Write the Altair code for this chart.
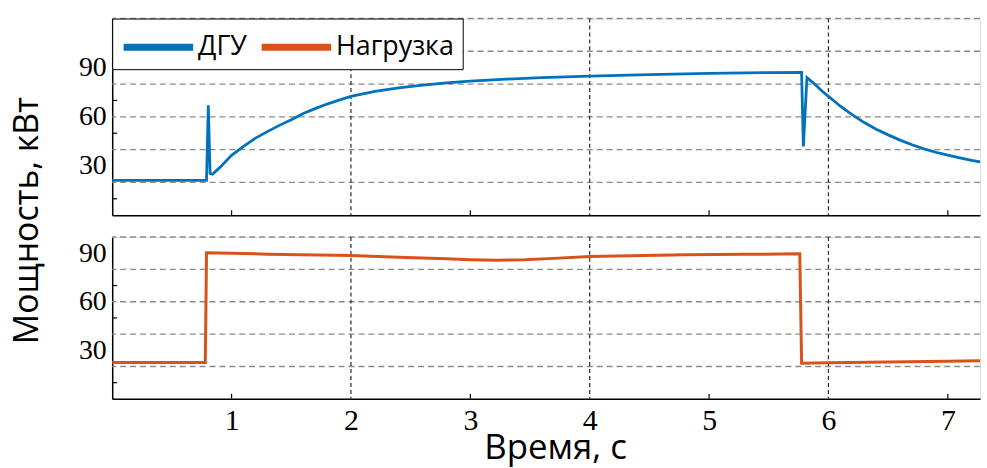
import altair as alt
import pandas as pd

# ---- data ----
t_dgu = [0.0, 0.79, 0.805, 0.82, 0.84, 0.9, 1.0, 1.1, 1.2, 1.3, 1.4, 1.5, 1.6, 1.7, 1.8, 1.9,
         2.0, 2.2, 2.4, 2.6, 2.8, 3.0, 3.3, 3.6, 4.0, 4.5, 5.0, 5.5, 5.775, 5.79, 5.82,
         5.86, 5.9, 5.95, 6.0, 6.05, 6.1, 6.16, 6.22, 6.3, 6.4, 6.5, 6.6, 6.7, 6.8, 6.9,
         7.0, 7.1, 7.2, 7.27]
p_dgu = [21.2, 21.2, 67.0, 25.5, 25.0, 29.0, 36.5, 42.0, 47.0, 51.0, 54.8, 58.3, 62.0, 65.0, 67.8, 70.2,
         72.5, 75.5, 77.7, 79.4, 80.7, 81.8, 83.0, 83.9, 84.8, 85.8, 86.5, 87.0, 87.2, 42.0, 84.0,
         81.5, 79.0, 75.5, 72.5, 69.5, 66.5, 63.3, 60.3, 56.5, 52.4, 49.0, 45.8, 43.0, 40.5, 38.4,
         36.6, 35.0, 33.5, 32.5]

t_load = [0.0, 0.78, 0.79, 1.0, 1.3, 2.0, 2.4, 2.8, 3.0, 3.22, 3.45, 3.7, 4.0, 4.8, 5.3, 5.76, 5.775,
          6.0, 6.5, 7.0, 7.27]
p_load = [22.5, 22.5, 90.3, 90.0, 89.4, 88.5, 87.5, 86.5, 86.0, 85.7, 85.9, 86.8, 88.0, 89.0, 89.3, 89.6, 22.0,
          22.3, 22.7, 23.2, 23.5]

series_names = ["ДГУ", "Нагрузка"]
series_colors = ["#0072BD", "#D95319"]

x_ticks_labels = [1, 2, 3, 4, 5, 6, 7]
x_grid = [2, 4, 6]
x_minor = [1, 3, 5, 7]
y_labels = [30, 60, 90]
y_minor = [10, 50, 70]
top_grid = [20, 40, 60, 80, 100, 120]
bot_grid = [20, 40, 60, 80, 100]

X_DOMAIN = [0, 7.27]
W = 874
H_TOP = 198
H_BOT = 163

dgu = pd.DataFrame({"t": t_dgu, "p": p_dgu, "s": series_names[0]})
load = pd.DataFrame({"t": t_load, "p": p_load, "s": series_names[1]})

color = alt.Color(
    "s:N",
    scale=alt.Scale(domain=series_names, range=series_colors),
    legend=alt.Legend(
        title=None, orient="none", legendX=0, legendY=0, direction="horizontal",
        symbolType="M-2,0H2", symbolSize=1225, symbolStrokeWidth=7, symbolOffset=17.5,
        symbolFillColor="transparent",
        labelFont="Open Sans", labelFontSize=27, labelColor="black", labelOffset=19,
        columnPadding=0, padding=8, strokeColor="black", fillColor="white",
        labelLimit=300,
    ),
)


def panel(df, height, ymax, grid_vals, top):
    xscale = alt.Scale(domain=X_DOMAIN, nice=False, zero=False)
    yscale = alt.Scale(domain=[0, ymax], nice=False)
    if top:
        xaxis = alt.Axis(labels=False, ticks=False, grid=False, title=None,
                         domainColor="black", domainWidth=1.5)
        yaxis = alt.Axis(values=y_labels, ticks=False, grid=False, domainColor="black",
                         domainWidth=1.5, labelFont="Liberation Serif", labelFontSize=28,
                         labelColor="black", labelPadding=6,
                         title="Мощность, кВт", titleFont="Open Sans", titleFontSize=34,
                         titleFontWeight="normal", titleColor="black", titleAngle=270,
                         titleX=-75, titleY=203, titleBaseline="alphabetic", titleAlign="center")
    else:
        xaxis = alt.Axis(values=x_ticks_labels, ticks=False, grid=False, domainColor="black",
                         domainWidth=1.5, labelFont="Liberation Serif", labelFontSize=30,
                         labelColor="black", labelPadding=7, format="d",
                         title="Время, с", titleFont="Open Sans", titleFontSize=35,
                         titleFontWeight="normal", titleColor="black",
                         titleX=446, titleY=60, titleBaseline="alphabetic", titleAlign="center")
        yaxis = alt.Axis(values=y_labels, ticks=False, grid=False, domainColor="black",
                         domainWidth=1.5, labelFont="Liberation Serif", labelFontSize=28,
                         labelColor="black", labelPadding=6, title=None)

    gdf = pd.DataFrame({"v": grid_vals})
    hgrid = alt.Chart(gdf).mark_rule(color="#8a8a8a", strokeWidth=1.4, strokeDash=[6, 4]).encode(
        y=alt.Y("v:Q", scale=yscale, axis=yaxis))
    vgrid = alt.Chart(pd.DataFrame({"t": x_grid})).mark_rule(
        color="#2a2a2a", strokeWidth=1.2, strokeDash=[4, 3]).encode(
        x=alt.X("t:Q", scale=xscale, axis=xaxis))
    yt = alt.Chart(pd.DataFrame({"v": y_minor})).mark_rule(color="black", strokeWidth=1.2).encode(
        y=alt.Y("v:Q", scale=yscale, axis=yaxis), x=alt.value(0), x2=alt.value(5))
    xt = alt.Chart(pd.DataFrame({"t": x_minor})).mark_rule(color="black", strokeWidth=1.2).encode(
        x=alt.X("t:Q", scale=xscale, axis=xaxis), y=alt.value(height), y2=alt.value(height - 5))
    line = alt.Chart(df).mark_line(strokeWidth=2.8 if top else 3).encode(
        x=alt.X("t:Q", scale=xscale, axis=xaxis),
        y=alt.Y("p:Q", scale=yscale, axis=yaxis),
        color=color,
    )
    return alt.layer(hgrid, vgrid, yt, xt, line).properties(width=W, height=height)


top = panel(dgu, H_TOP, 120, top_grid, True)
bot = panel(load, H_BOT, 100, bot_grid, False)

chart = alt.vconcat(top, bot, spacing=22, bounds="flush").properties(
    padding={"left": 10, "top": 15, "right": 0, "bottom": 6}
).configure_view(strokeWidth=0).configure(background="white")

chart.save("out.html", embed_options={"renderer": "svg", "actions": False})
